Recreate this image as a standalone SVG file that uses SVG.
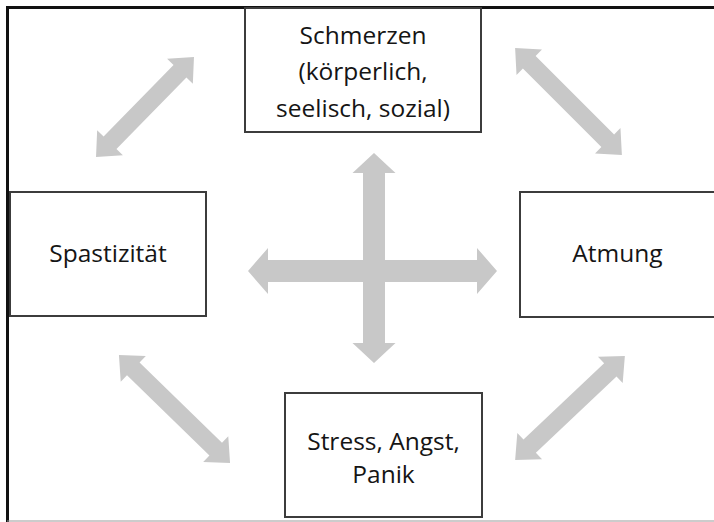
<svg xmlns="http://www.w3.org/2000/svg" width="714" height="522" viewBox="0 0 714 522">
<style>
.box{fill:#fff;stroke:#3c3c3c;stroke-width:2}
.lbl{font-family:"Open Sans","Liberation Sans",sans-serif;font-size:24.5px;fill:#151515;text-anchor:middle}
.arr{fill:#c8c8c8}
</style>
<rect width="714" height="522" fill="#fff"/>
<path d="M7.5,522 V7.5 H714" fill="none" stroke="#111" stroke-width="3"/>
<line x1="7" y1="521" x2="714" y2="521" stroke="#9a9a9a" stroke-width="1.2"/>
<g id="connectors">
<path class="arr" transform="translate(374,258) rotate(90)" d="M-105,0 L-85,-21.5 L-85,-11 L85,-11 L85,-21.5 L105,0 L85,21.5 L85,11 L-85,11 L-85,21.5 Z"/>
<path class="arr" transform="translate(372.5,271)" d="M-124.5,0 L-104.5,-23 L-104.5,-11 L104.5,-11 L104.5,-23 L124.5,0 L104.5,23 L104.5,11 L-104.5,11 L-104.5,23 Z"/>
<path class="arr" transform="translate(145,107) rotate(-45.6)" d="M-70,0 L-50,-18 L-50,-9 L50,-9 L50,-18 L70,0 L50,18 L50,9 L-50,9 L-50,18 Z"/>
<path class="arr" transform="translate(568.5,101.5) rotate(45)" d="M-75.5,0 L-55.5,-18 L-55.5,-9 L55.5,-9 L55.5,-18 L75.5,0 L55.5,18 L55.5,9 L-55.5,9 L-55.5,18 Z"/>
<path class="arr" transform="translate(174.5,409) rotate(44.2)" d="M-77.5,0 L-57.5,-18 L-57.5,-9 L57.5,-9 L57.5,-18 L77.5,0 L57.5,18 L57.5,9 L-57.5,9 L-57.5,18 Z"/>
<path class="arr" transform="translate(570,408) rotate(-43.4)" d="M-75.5,0 L-55.5,-18 L-55.5,-9 L55.5,-9 L55.5,-18 L75.5,0 L55.5,18 L55.5,9 L-55.5,9 L-55.5,18 Z"/>
</g>
<g id="schmerzen">
<rect class="box" x="245" y="8" width="236" height="124"/>
<text class="lbl" x="363" y="44">Schmerzen</text>
<text class="lbl" x="363" y="80">(körperlich,</text>
<text class="lbl" x="363" y="117">seelisch, sozial)</text>
</g>
<g id="spastizitaet">
<rect class="box" x="10" y="192" width="196" height="124"/>
<text class="lbl" x="108" y="262">Spastizität</text>
</g>
<g id="atmung">
<rect class="box" x="520" y="192" width="200" height="125"/>
<text class="lbl" x="617.5" y="262">Atmung</text>
</g>
<g id="stress">
<rect class="box" x="285" y="393" width="197" height="124"/>
<text class="lbl" x="383.5" y="450">Stress, Angst,</text>
<text class="lbl" x="383.5" y="483">Panik</text>
</g>
</svg>
